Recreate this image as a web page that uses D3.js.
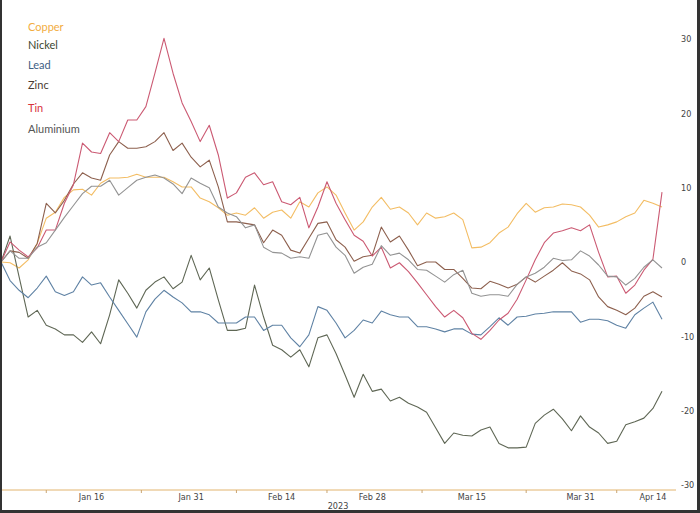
<!DOCTYPE html>
<html>
<head>
<meta charset="utf-8">
<script src="https://cdn.jsdelivr.net/npm/d3@7"></script>
<style>
  body { margin: 0; background: #fff; }
  #wrapper { width: 700px; height: 513px; }
</style>
</head>
<body>
<div id="wrapper"></div>
<script>
// LME trading days, Dec 30 2022 to Apr 17 2023
const dates = [
  "2022-12-30",
  "2023-01-03","2023-01-04","2023-01-05","2023-01-06",
  "2023-01-09","2023-01-10","2023-01-11","2023-01-12","2023-01-13",
  "2023-01-16","2023-01-17","2023-01-18","2023-01-19","2023-01-20",
  "2023-01-23","2023-01-24","2023-01-25","2023-01-26","2023-01-27",
  "2023-01-30","2023-01-31","2023-02-01","2023-02-02","2023-02-03",
  "2023-02-06","2023-02-07","2023-02-08","2023-02-09","2023-02-10",
  "2023-02-13","2023-02-14","2023-02-15","2023-02-16","2023-02-17",
  "2023-02-20","2023-02-21","2023-02-22","2023-02-23","2023-02-24",
  "2023-02-27","2023-02-28","2023-03-01","2023-03-02","2023-03-03",
  "2023-03-06","2023-03-07","2023-03-08","2023-03-09","2023-03-10",
  "2023-03-13","2023-03-14","2023-03-15","2023-03-16","2023-03-17",
  "2023-03-20","2023-03-21","2023-03-22","2023-03-23","2023-03-24",
  "2023-03-27","2023-03-28","2023-03-29","2023-03-30","2023-03-31",
  "2023-04-03","2023-04-04","2023-04-05","2023-04-06",
  "2023-04-11","2023-04-12","2023-04-13","2023-04-14",
  "2023-04-17"
];

// % change since Dec 30
const copper = [0, -0.1, -0.8, 0.3, 2.5, 5.9, 6.7, 8.7, 9.7, 9.8,
  9, 10.6, 11.3, 11.3, 11.4, 11.8, 11.4, 11.4, 11.4, 10.8,
  10.1, 10.1, 8.6, 8.1, 7.3, 6.3, 6.6, 6.3, 7.3, 5.9,
  6.7, 7, 5.9, 8.1, 7.4, 9.3, 10.1, 9, 6.6, 4.3,
  5.4, 7.4, 8.7, 7.1, 7.4, 6.6, 5, 6.6, 5.9, 6.1,
  6.6, 5.7, 1.9, 2, 2.6, 3.9, 4.7, 6.5, 7.9, 6.7,
  7.3, 7.4, 7.8, 7.7, 7.4, 6.3, 4.7, 5, 5.4, 6.1,
  6.6, 8.3, 7.9, 7.4];
const nickel = [0, 3.5, -2, -7.4, -6.5, -8.5, -9, -9.8, -9.8, -10.8,
  -9.4, -11, -7.1, -2.4, -4.2, -6.2, -3.8, -2.7, -2, -3.6,
  -2.7, 0.9, -2.4, -0.8, -5.1, -9.2, -9.2, -8.9, -3.1, -7.4,
  -11.2, -11.8, -12.8, -11.8, -14.1, -10.2, -9.8, -12.3, -15.2, -18.2,
  -15.1, -17.4, -17.1, -18.7, -18.2, -19, -19.5, -20.2, -22.3, -24.4,
  -23, -23.3, -23.4, -22.6, -22.2, -24.4, -25, -25, -24.9, -21.7,
  -20.6, -19.8, -21.1, -22.7, -20.7, -22.2, -23, -24.4, -24.1, -21.9,
  -21.5, -21, -19.7, -17.4];
const lead = [0, -2.5, -3.8, -4.8, -3.5, -1.9, -4, -4.5, -4, -2,
  -3.1, -2.8, -4.7, -6.5, -8.3, -10.1, -6.7, -5, -3.8, -4.7,
  -5.5, -6.7, -6.7, -7.1, -8.2, -8.2, -8.2, -7.4, -7.4, -9.2,
  -8.5, -8.5, -10.2, -11.4, -9.8, -6, -6.5, -8.2, -10.2, -9.2,
  -7.8, -8.2, -6.6, -7.1, -7.4, -7.4, -8.7, -8.7, -9, -9.4,
  -9, -9, -9.7, -9.8, -8.7, -7.5, -8.5, -7.4, -7.3, -7,
  -6.9, -6.7, -6.7, -6.7, -8.1, -7.7, -7.7, -7.9, -8.5, -8.9,
  -7.1, -6.2, -5.4, -7.7];
const zinc = [0, 1.5, 1.3, 0.5, 2.5, 7.9, 6.6, 8.3, 10.5, 12,
  11.3, 11, 14.4, 16.2, 15.3, 15.3, 15.5, 16.2, 17.4, 15,
  16, 14.1, 12.8, 13.7, 10.1, 5.4, 5.4, 5.2, 5, 2.6,
  4.3, 3.6, 1.6, 1.2, 3.2, 5.2, 5.4, 3, 2, 0.1,
  0.7, 0.9, 4.7, 2.7, 3.5, 1.6, -0.5, 0, 0, -1,
  -1, -2.2, -3.5, -3.6, -2.6, -3, -3.5, -3, -2, -2.7,
  -1.9, -1.1, -0.1, -1.2, -1.6, -2.4, -4.7, -6, -6.5, -7.1,
  -6.2, -4.6, -4, -4.7];
const tin = [0, 2.7, 1.6, 0.7, 1.9, 4.3, 4.3, 7.9, 10.4, 16,
  14.8, 14.6, 17.4, 16.2, 19.1, 19.1, 20.9, 25.4, 30.1, 25.4,
  21.4, 18.9, 16.2, 18.4, 14.4, 8.6, 9.3, 11.4, 12, 10.4,
  10.8, 8.1, 7.7, 8.7, 4.6, 7.4, 10.8, 7.9, 5.7, 3.6,
  2.8, 0.8, 2, -0.8, -0.1, -1.3, -2.8, -4.4, -6, -7.4,
  -6.5, -7.5, -9.6, -10.4, -9.2, -7.8, -6.9, -5, -2.4, 0.3,
  2.6, 3.9, 4.2, 4.6, 4.2, 5, 1.3, -2, -1.9, -4.2,
  -3.1, -1.1, 0.4, 9.4];
const aluminium = [0, 1.5, 0.5, 0.5, 2, 2.6, 4.3, 6, 7.6, 9.2,
  10.2, 10.2, 11, 9, 10, 11, 11.4, 11.7, 11.3, 10.5,
  9.2, 11.3, 10.6, 10, 7.4, 6.6, 6.1, 4.6, 5, 2,
  1.3, 1.2, 0.5, 0.7, 0.5, 3.6, 3.9, 2, 0.9, -1.5,
  -0.7, -0.3, 2.2, 0.9, 1.2, 0.3, -1, -1.1, -1.9, -2.7,
  -1.7, -1.1, -4.2, -4.6, -4.4, -4.4, -4.6, -3, -2, -1.5,
  -0.7, 0.5, 0.2, 0.3, 1.5, 0.8, -0.4, -1.9, -2, -3.1,
  -2.2, -0.7, 0.3, -0.8];

const metalNames = ["Copper", "Nickel", "Lead", "Zinc", "Tin", "Aluminium"];
const metalValues = [copper, nickel, lead, zinc, tin, aluminium];
const lineColors = ["#f3bd64", "#5f6755", "#5f82a4", "#8d604e", "#cb5a73", "#939393"];
const labelColors = ["#f2ad3f", "#3c4830", "#3f6083", "#4b3c32", "#d8333c", "#555555"];

const xTickLabels = ["Jan 16", "Jan 31", "Feb 14", "Feb 28", "Mar 15", "Mar 31", "Apr 14"];
const xTickDates = ["2023-01-16", "2023-01-31", "2023-02-14", "2023-02-28", "2023-03-15", "2023-03-31", "2023-04-14"];
const yTicks = [30, 20, 10, 0, -10, -20, -30];

let dimensions = {
  width: 700,
  height: 513,
  plotLeft: 1,
  plotRight: 662,
  axisRight: 676,
  axisY: 490
};

const svg = d3.select("#wrapper").append("svg")
  .attr("width", dimensions.width)
  .attr("height", dimensions.height);

const xScale = d3.scaleLinear()
  .domain([0, dates.length - 1])
  .range([dimensions.plotLeft, dimensions.plotRight]);

const yScale = d3.scaleLinear()
  .domain([-30.67, 35.25])
  .range([dimensions.axisY, 0]);

// x axis baseline
svg.append("line")
  .attr("x1", 0).attr("x2", dimensions.axisRight)
  .attr("y1", dimensions.axisY).attr("y2", dimensions.axisY)
  .attr("stroke", "#e2b46e")
  .attr("stroke-width", 1);

// tick marks sit between the labels
const labelIdx = xTickDates.map(d => dates.indexOf(d));
const markIdx = [labelIdx[0] / 2].concat(d3.pairs(labelIdx).map(p => (p[0] + p[1]) / 2));

svg.append("g").selectAll("line")
  .data(markIdx)
  .join("line")
  .attr("x1", d => xScale(d)).attr("x2", d => xScale(d))
  .attr("y1", dimensions.axisY).attr("y2", dimensions.axisY + 3)
  .attr("stroke", "#c9a470");

const tickFont = "'Liberation Sans Narrow', 'DejaVu Sans Condensed', sans-serif";

svg.append("g").selectAll("text")
  .data(xTickLabels)
  .join("text")
  .attr("x", (d, i) => xScale(labelIdx[i]))
  .attr("y", 500)
  .attr("text-anchor", "middle")
  .attr("font-family", tickFont)
  .attr("font-size", 9)
  .attr("fill", "#444")
  .text(d => d);

svg.append("text")
  .attr("x", 338)
  .attr("y", 509)
  .attr("text-anchor", "middle")
  .attr("font-family", tickFont)
  .attr("font-size", 9)
  .attr("fill", "#444")
  .text("2023");

// right value axis
const yAxisGenerator = d3.axisRight(yScale)
  .tickValues(yTicks)
  .tickFormat(d => String(d))
  .tickSize(0)
  .tickPadding(5);

const yAxis = svg.append("g")
  .attr("transform", `translate(${dimensions.axisRight},0)`)
  .call(yAxisGenerator);
yAxis.select(".domain").remove();
yAxis.selectAll("text")
  .attr("font-family", tickFont)
  .attr("font-size", 9)
  .attr("fill", "#444");

// lines
const lineGenerator = d3.line()
  .x((d, i) => xScale(i))
  .y(d => yScale(d));

svg.append("g").selectAll("path")
  .data(metalValues)
  .join("path")
  .attr("d", d => lineGenerator(d))
  .attr("fill", "none")
  .attr("stroke", (d, i) => lineColors[i])
  .attr("stroke-width", 1.1)
  .attr("stroke-linejoin", "round");

// legend
const legendY = [31, 49, 69, 89, 112, 133];
svg.append("g").selectAll("text")
  .data(metalNames)
  .join("text")
  .attr("x", 28)
  .attr("y", (d, i) => legendY[i])
  .attr("font-family", "Lato, 'Noto Sans', sans-serif")
  .attr("font-size", 11)
  .attr("fill", (d, i) => labelColors[i])
  .text(d => d);

// frame
svg.append("rect").attr("x", 0).attr("y", 0).attr("width", 2).attr("height", dimensions.height).attr("fill", "#333");
svg.append("rect").attr("x", 697).attr("y", 0).attr("width", 3).attr("height", dimensions.height).attr("fill", "#333");
svg.append("rect").attr("x", 0).attr("y", 510).attr("width", dimensions.width).attr("height", 3).attr("fill", "#333");
</script>
</body>
</html>
